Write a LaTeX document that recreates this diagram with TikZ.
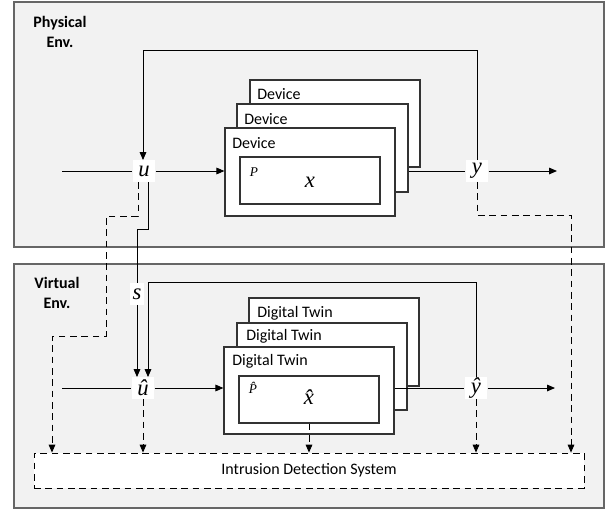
\documentclass[tikz,border=0pt]{standalone}
\usepackage{fontspec}
\setmainfont{Carlito}
\newfontfamily\tms{Liberation Serif}
\usetikzlibrary{arrows.meta,fit,calc}
\begin{document}
\begin{tikzpicture}[x=0.75pt,y=-0.75pt,
  panel/.style={draw=black!60,fill=black!5,line width=1pt,inner sep=0pt},
  box/.style={draw=black!80,fill=white,line width=0.9pt,inner sep=0pt},
  lab/.style={font=\fontsize{12}{14}\selectfont,anchor=west,inner sep=0pt},
  envlbl/.style={font=\fontsize{12}{15}\selectfont\bfseries,align=center,inner sep=0pt},
  sig/.style={fill=white,inner sep=0pt,minimum width=17pt,minimum height=16pt,font=\tms\itshape\fontsize{17}{17}\selectfont},
  small/.style={inner sep=0pt,font=\tms\itshape\fontsize{10}{10}\selectfont},
  ln/.style={line width=0.7pt,draw=black},
  arr/.style={ln,-{Triangle[length=6pt,width=5pt]}},
  dsh/.style={dash pattern=on 5pt off 3.5pt},
]
\useasboundingbox (0,0) rectangle (610,510);

% panels
\node[panel,fit={(14,2)(604,247)}] (phys) {};
\node[panel,fit={(14,264)(604,508)}] (virt) {};
\node[envlbl] (physlbl) at (60,32) {Physical\\Env.};
\node[envlbl] (virtlbl) at (57,293) {Virtual\\Env.};

% device stack
\node[box,fit={(250,80)(420,167)}] (dev3) {};
\node[lab] (dev3l) at (257,94) {Device};
\node[box,fit={(237,104)(408,192)}] (dev2) {};
\node[lab] (dev2l) at (244,119) {Device};
\node[box,fit={(225,128)(395,216)}] (dev1) {};
\node[lab] (dev1l) at (232,143) {Device};
\node[box,fit={(240,157)(380,204)}] (plant) {};
\node[small] (P) at (254,172) {P};
\node[sig,fill=none] (x) at (310,182) {x};

% digital twin stack
\node[box,fit={(249,298)(419,386)}] (dt3) {};
\node[lab] (dt3l) at (257,313) {Digital Twin};
\node[box,fit={(237,323)(407,410)}] (dt2) {};
\node[lab] (dt2l) at (246,336) {Digital Twin};
\node[box,fit={(224,347)(394,434)}] (dt1) {};
\node[lab] (dt1l) at (232,361) {Digital Twin};
\node[box,fit={(239,376)(379,423)}] (plantH) {};
\node[small] (Ph) at (253,388) {\^P};
\node[sig,fill=none] (xh) at (309,397) {\^x};

% IDS
\node[box,dsh,draw=black,line width=0.6pt,fit={(34,453)(584,488)}] (ids) {};
\node[lab,anchor=center] (idsl) at (ids.center) {Intrusion Detection System};

% signal labels
\node[sig] (u) at (144,171) {u};
\node[sig] (y) at (477,171) {y};
\node[sig,minimum width=10pt] (s) at (137,294) {s};
\node[sig] (uh) at (143,388) {\^u};
\node[sig] (yh) at (476,388) {\^y};

% coordinates
\coordinate (inT) at (62,171);
\coordinate (outT) at (557,171);
\coordinate (inB) at (62,388);
\coordinate (outB) at (555,388);
\coordinate (fbT) at (143,50);
\coordinate (fbB) at (148,282);
\coordinate (uturn) at (137,229);
\coordinate (d1) at (106,216);
\coordinate (d2) at (52,336);
\coordinate (d3) at (571,215);
\coordinate (usol) at (148,182);
\coordinate (udsh) at (138,182);

% physical signal flow
\draw[ln] (inT) -- (u.west);
\draw[arr] (u.east) -- (dev1.west |- u.east);
\draw[ln] (dev2.east |- y.west) -- (y.west);
\draw[arr] (y.east) -- (outT);
\draw[arr] (y.north) |- (fbT) -- (fbT |- u.north);

% u to virtual
\draw[ln] (usol) |- (uturn) -- (s.north);
\draw[arr] (s.south) -- (s.south |- uh.north);

% virtual signal flow
\draw[ln] (inB) -- (uh.west);
\draw[arr] (uh.east) -- (dt1.west |- uh.east);
\draw[ln] (dt1.east |- yh.west) -- (yh.west);
\draw[arr] (yh.east) -- (outB);
\draw[arr] (yh.north) |- (fbB) -- (fbB |- uh.north);

% dashed monitoring lines
\draw[arr,dsh] (udsh) |- (d1) |- (d2) -- (d2 |- ids.north);
\draw[arr,dsh] (y.south) |- (d3) -- (d3 |- ids.north);
\draw[arr,dsh] (uh.south) -- (uh.south |- ids.north);
\draw[arr,dsh] (plantH.south -| xh) -- (xh |- ids.north);
\draw[arr,dsh] (yh.south) -- (yh.south |- ids.north);
\end{tikzpicture}
\end{document}
